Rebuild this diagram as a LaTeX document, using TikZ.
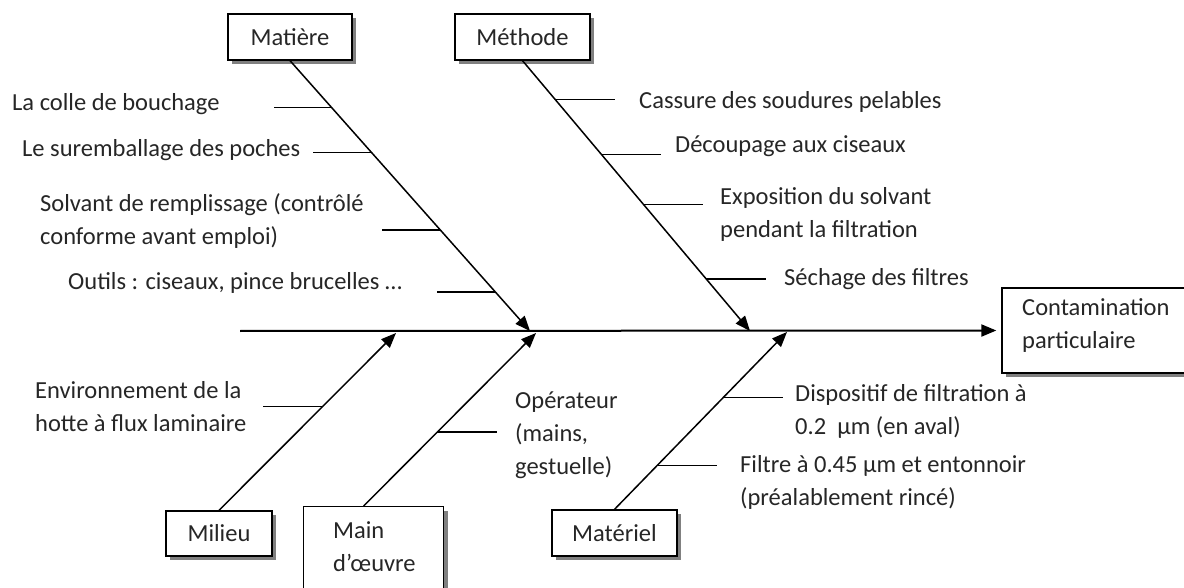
\documentclass[tikz,border=0pt]{standalone}
\usepackage{fontspec}
\setmainfont{Carlito}
\usetikzlibrary{positioning,arrows.meta,shadows,calc}
\tikzset{
  % --- category boxes --------------------------------------------------------
  cause/.style={draw=black,line width=1.3pt,fill=white,inner sep=0pt,
                minimum height=46pt,font=\fontsize{24.5}{33}\selectfont,
                text=black!85,
                drop shadow={shadow xshift=4pt,shadow yshift=-4pt,
                             fill=black!50,opacity=1}},
  % --- labels ----------------------------------------------------------------
  lab/.style={anchor=west,align=left,inner sep=0pt,text=black!85,
              font=\fontsize{24.5}{33}\selectfont},
  % --- bones and ticks -------------------------------------------------------
  bone/.style={line width=1.5pt,-{Triangle[length=15pt,width=12pt]}},
  spine/.style={line width=2pt,-{Triangle[length=15pt,width=12pt]}},
  twig/.style={line width=1.4pt},
}

\begin{document}
\begin{tikzpicture}[x=1pt,y=-1pt]
  \useasboundingbox (0,0) rectangle (1184,588);

  % ---- category boxes ----
  \node[cause,minimum width=124pt] (mat)  at (290,37)    {Matière};
  \node[cause,minimum width=135pt] (meth) at (522.5,37)  {Méthode};
  \node[cause,minimum width=106pt,minimum height=45pt] (mil) at (219,533.5) {Milieu};
  \node[cause,minimum width=140pt,minimum height=110pt,anchor=north west]
        (mdo) at (303,506) {};
  \node[cause,minimum width=125pt] (matl) at (614.5,533) {Matériel};
  \node[cause,minimum width=202pt,minimum height=85pt] (cont) at (1103,330.5) {};
  \node[lab] (mdotxt)  at (333,546.5) {Main\\d’œuvre};
  \node[lab] (conttxt) at (1022,326)  {Contamination\\particulaire};

  % ---- arrow tips on the spine ----
  \coordinate (start) at (240,331);
  \coordinate (tmat)  at (530,331);
  \coordinate (tmeth) at (750,331);
  \coordinate (tmil)  at (396,333);
  \coordinate (tmdo)  at (536,333);
  \coordinate (tmatl) at (787,332);

  % ---- spine and bones ----
  \draw[spine,shorten >=5pt] (start) -- (cont.west);
  \draw[bone] (mat.south)  -- (tmat);
  \draw[bone] (meth.south) -- (tmeth);
  \draw[bone] (mil.north)  -- (tmil);
  \draw[bone] ([xshift=-10pt]mdo.north) -- (tmdo);
  \draw[bone] (matl.north) -- (tmatl);

  % ---- Matière ----
  \draw[twig] ($(mat.south)!.173!(tmat)$) -- ++(-58,0);
  \draw[twig] ($(mat.south)!.339!(tmat)$) -- ++(-58,0);
  \draw[twig] ($(mat.south)!.627!(tmat)$) -- ++(-58,0);
  \draw[twig] ($(mat.south)!.856!(tmat)$) -- ++(-58,0);
  \node[lab] (colle)  at (12,104)   {La colle de bouchage};
  \node[lab] (surem)  at (22,150)   {Le suremballage des poches};
  \node[lab] (solv)   at (40,221.5) {Solvant de remplissage (contrôlé\\conforme avant emploi)};
  \node[lab] (outils) at (68,283)   {Outils : ciseaux, pince brucelles …};

  % ---- Méthode ----
  \draw[twig] ($(meth.south)!.144!(tmeth)$) -- ++(60,0);
  \draw[twig] ($(meth.south)!.347!(tmeth)$) -- ++(60,0);
  \draw[twig] ($(meth.south)!.531!(tmeth)$) -- ++(60,0);
  \draw[twig] ($(meth.south)!.808!(tmeth)$) -- ++(60,0);
  \node[lab] (cass)  at (639,102)   {Cassure des soudures pelables};
  \node[lab] (decou) at (675,146)   {Découpage aux ciseaux};
  \node[lab] (expo)  at (720,214.5) {Exposition du solvant\\pendant la filtration};
  \node[lab] (sech)  at (784,279)   {Séchage des filtres};

  % ---- Milieu, Main d'oeuvre, Matériel ----
  \draw[twig] ($(mil.north)!.586!(tmil)$) -- ++(-60,0);
  \draw[twig] ($([xshift=-10pt]mdo.north)!.428!(tmdo)$) -- ++(60,0);
  \draw[twig] ($(matl.north)!.629!(tmatl)$) -- ++(60,0);
  \draw[twig] ($(matl.north)!.247!(tmatl)$) -- ++(60,0);
  \node[lab] (envir) at (35,406.5)  {Environnement de la\\hotte à flux laminaire};
  \node[lab] (oper)  at (515,435)   {Opérateur\\(mains,\\gestuelle)};
  \node[lab] (disp)  at (795,411.5) {Dispositif de filtration à\\0.2\ \ µm (en aval)};
  \node[lab] (filt)  at (740,482.5) {Filtre à 0.45 µm et entonnoir\\(préalablement rincé)};
\end{tikzpicture}
\end{document}
